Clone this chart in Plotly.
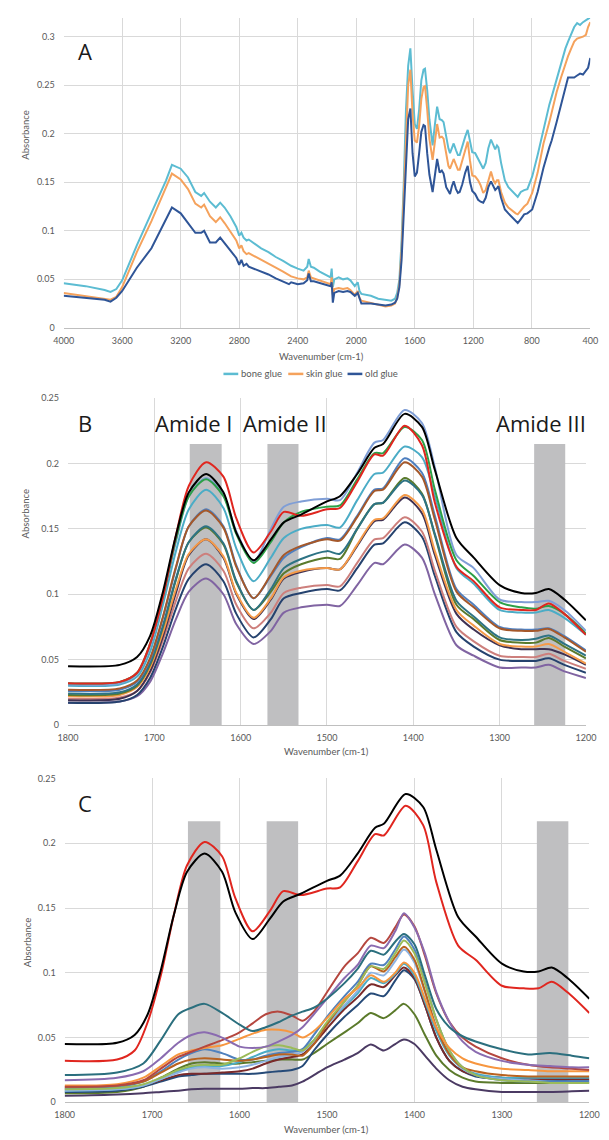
import plotly.graph_objects as go

W, H = 609, 1140

# ---------------- Panel A data ----------------
WN_A = [4000, 3850, 3720, 3680, 3640, 3600, 3500, 3400, 3300, 3260, 3200, 3150, 3100, 3060, 3040, 3000,
        2960, 2930, 2900, 2860, 2820, 2800, 2785, 2770, 2750, 2735, 2700, 2650, 2600, 2550, 2500, 2460,
        2445, 2400, 2360, 2335, 2325, 2310, 2290, 2250, 2210, 2175, 2168, 2160, 2150, 2120, 2090, 2060,
        2040, 2010, 1990, 1978, 1965, 1940, 1900, 1850, 1800, 1760, 1735, 1720, 1705, 1690, 1675, 1660,
        1645, 1630, 1615, 1600, 1585, 1570, 1555, 1540, 1530, 1515, 1500, 1478, 1462, 1447, 1430, 1415,
        1403, 1385, 1370, 1359, 1346, 1334, 1318, 1305, 1293, 1275, 1255, 1238, 1222, 1207, 1187, 1167,
        1150, 1132, 1115, 1097, 1079, 1062, 1050, 1038, 1028, 1010, 984, 960, 930, 910, 896, 875, 852,
        830, 797, 760, 720, 680, 664, 630, 600, 570, 552, 530, 510, 490, 470, 450, 430, 415, 400]

BONE_GLUE = [.046, .043, .039, .037, .040, .049, .085, .118, .152, .168, .164, .155, .140, .136, .139, .130,
             .124, .129, .124, .115, .104, .095, .098, .093, .090, .091, .087, .082, .078, .073, .069, .065,
             .064, .061, .059, .063, .071, .063, .062, .058, .055, .052, .061, .042, .050, .052, .050, .051,
             .049, .043, .047, .038, .035, .034, .033, .030, .029, .028, .030, .036, .050, .090, .150, .225,
             .270, .288, .245, .210, .205, .225, .255, .266, .267, .245, .215, .188, .210, .228, .215, .214,
             .212, .195, .185, .180, .186, .190, .183, .178, .178, .188, .197, .204, .192, .181, .180, .174,
             .170, .164, .170, .185, .194, .188, .184, .188, .186, .170, .152, .145, .140, .137, .135, .140, .142,
             .143, .156, .178, .205, .230, .238, .257, .272, .288, .295, .302, .310, .314, .312, .315, .317, .319, .320]

SKIN_GLUE = [.036, .033, .030, .029, .032, .042, .078, .110, .145, .159, .153, .143, .128, .124, .127, .115,
             .109, .114, .108, .099, .090, .082, .085, .079, .076, .077, .074, .070, .066, .062, .058, .054,
             .053, .051, .050, .052, .059, .052, .051, .049, .047, .045, .052, .034, .040, .041, .040, .041,
             .039, .034, .038, .031, .028, .027, .026, .024, .022, .023, .025, .031, .045, .080, .135, .205,
             .250, .266, .220, .193, .191, .208, .236, .248, .249, .225, .195, .173, .195, .210, .196, .197,
             .195, .178, .167, .164, .170, .174, .168, .163, .163, .172, .183, .192, .172, .157, .156, .152,
             .147, .139, .142, .152, .161, .152, .149, .152, .152, .140, .129, .124, .120, .118, .117, .121, .125,
             .128, .139, .160, .190, .212, .222, .243, .258, .272, .280, .288, .295, .298, .299, .300, .302, .310, .315]

OLD_GLUE = [.033, .031, .029, .027, .031, .038, .062, .082, .112, .124, .118, .108, .098, .098, .100, .088,
            .088, .093, .087, .080, .072, .065, .070, .064, .066, .063, .061, .058, .055, .051, .048, .045,
            .047, .045, .046, .049, .056, .048, .048, .046, .044, .043, .047, .026, .036, .038, .037, .038,
            .037, .033, .036, .030, .025, .025, .025, .024, .023, .024, .026, .030, .042, .070, .120, .180,
            .215, .226, .180, .156, .160, .180, .202, .209, .208, .180, .158, .140, .160, .174, .160, .162,
            .159, .145, .141, .138, .146, .151, .143, .139, .140, .148, .160, .167, .150, .141, .138, .132,
            .130, .129, .134, .145, .151, .145, .142, .144, .146, .134, .122, .118, .113, .110, .108, .112, .117,
            .118, .122, .140, .165, .186, .193, .212, .230, .245, .258, .258, .258, .260, .262, .261, .265, .268, .278]

# ---------------- Panel B / C shared data ----------------
WN_B = [1800, 1740, 1720, 1705, 1690, 1675, 1660, 1640, 1620, 1605, 1585, 1565, 1550, 1530, 1500,
        1485, 1465, 1445, 1435, 1410, 1390, 1375, 1350, 1330, 1300, 1275, 1258, 1243, 1225, 1200]

BLACK = [.045, .046, .052, .068, .102, .145, .178, .192, .178, .147, .126, .142, .155, .161, .171,
         .175, .192, .212, .215, .238, .228, .195, .143, .128, .107, .101, .101, .104, .096, .080]
RED = [.032, .033, .040, .062, .098, .145, .183, .201, .190, .158, .132, .148, .163, .160, .165,
       .166, .186, .207, .206, .229, .214, .170, .121, .110, .090, .088, .088, .093, .085, .069]
GREEN = [.032, .033, .040, .062, .098, .142, .175, .188, .175, .146, .124, .140, .155, .163, .167,
         .168, .188, .208, .208, .228, .218, .180, .126, .114, .094, .090, .089, .091, .085, .070]
STEEL_LIGHT = [.031, .032, .039, .060, .097, .140, .175, .189, .176, .148, .125, .150, .167, .171, .173,
               .172, .193, .216, .218, .241, .231, .197, .130, .120, .096, .094, .094, .095, .088, .072]
CYAN = [.030, .031, .037, .056, .092, .133, .165, .180, .166, .135, .110, .128, .143, .150, .153,
        .151, .172, .192, .193, .213, .205, .175, .120, .108, .088, .086, .086, .088, .082, .069]
STEEL_BLUE = [.026, .027, .033, .050, .082, .120, .152, .165, .152, .122, .097, .114, .128, .136, .143,
              .142, .160, .180, .181, .204, .193, .160, .104, .092, .075, .073, .073, .074, .068, .057]
BROWN = [.027, .028, .034, .051, .083, .121, .152, .164, .151, .121, .097, .115, .130, .137, .142,
         .141, .159, .179, .180, .201, .190, .157, .102, .090, .074, .072, .072, .0735, .067, .056]
TEAL = [.024, .025, .031, .047, .076, .112, .140, .152, .139, .110, .088, .104, .120, .127, .133,
        .131, .150, .169, .170, .187, .176, .146, .095, .083, .067, .065, .066, .0685, .062, .053]
OLIVE = [.023, .024, .030, .046, .075, .111, .140, .151, .138, .109, .088, .102, .116, .123, .128,
         .127, .150, .169, .170, .189, .177, .145, .092, .081, .065, .063, .063, .0665, .060, .051]
ORANGE = [.022, .023, .029, .044, .071, .104, .131, .142, .129, .101, .082, .097, .113, .118, .120,
          .119, .138, .157, .158, .176, .165, .133, .088, .076, .062, .060, .060, .062, .056, .047]
DARK_PURPLE = [.019, .020, .026, .041, .068, .101, .130, .142, .128, .100, .081, .096, .112, .117, .120,
               .119, .137, .156, .157, .174, .162, .130, .085, .073, .061, .058, .058, .058, .054, .046]
ROSE = [.020, .021, .026, .040, .065, .095, .120, .131, .118, .092, .074, .086, .101, .105, .107,
        .106, .124, .142, .143, .159, .148, .118, .075, .064, .053, .052, .052, .0545, .049, .043]
NAVY = [.017, .018, .023, .036, .060, .089, .112, .123, .110, .085, .067, .081, .097, .101, .104,
        .103, .120, .138, .139, .155, .144, .114, .071, .060, .050, .049, .049, .051, .046, .040]
PURPLE = [.017, .018, .022, .033, .055, .081, .102, .112, .100, .077, .062, .072, .086, .090, .092,
          .091, .107, .124, .123, .138, .128, .100, .061, .053, .044, .044, .044, .046, .041, .036]

# ---------------- Panel C low-intensity spectra ----------------
WN_C = [1800, 1740, 1710, 1690, 1670, 1655, 1640, 1620, 1600, 1585, 1570, 1555, 1540, 1528, 1515, 1500, 1480,
        1465, 1450, 1435, 1422, 1412, 1400, 1388, 1375, 1360, 1345, 1330, 1300, 1270, 1245, 1220, 1200]

C_TEAL = [.021, .023, .030, .048, .068, .073, .076, .069, .060, .055, .058, .062, .067, .070, .073, .080, .092,
          .103, .117, .114, .124, .130, .122, .098, .072, .058, .051, .047, .041, .037, .038, .036, .034]
C_PURPLE = [.017, .019, .024, .034, .046, .052, .054, .050, .043, .042, .043, .047, .052, .058, .068, .080, .096,
            .106, .121, .119, .132, .146, .135, .115, .085, .062, .047, .039, .032, .029, .028, .027, .027]
C_BRICK = [.012, .013, .017, .026, .035, .039, .043, .048, .054, .061, .068, .070, .067, .063, .070, .085, .105,
           .115, .127, .123, .135, .145, .136, .113, .084, .062, .050, .043, .034, .029, .027, .026, .025]
C_ORANGE = [.013, .014, .019, .028, .037, .040, .042, .044, .049, .053, .056, .056, .054, .050, .055, .065, .080,
            .088, .098, .093, .100, .108, .100, .080, .058, .042, .034, .030, .026, .025, .024, .024, .024]
C_LIGHT_GREEN = [.010, .011, .014, .019, .025, .028, .029, .029, .034, .039, .043, .044, .042, .040, .048, .062, .078,
                 .090, .105, .103, .115, .125, .115, .092, .064, .040, .027, .021, .017, .016, .015, .015, .015]
C_CYAN = [.009, .010, .013, .018, .024, .027, .028, .028, .031, .035, .039, .041, .040, .040, .048, .060, .074,
          .084, .096, .092, .099, .107, .098, .078, .055, .036, .026, .022, .019, .019, .019, .019, .019]
C_STEEL_BLUE = [.011, .012, .016, .024, .033, .038, .041, .038, .033, .033, .036, .038, .039, .041, .052, .066, .082,
                .093, .107, .106, .118, .128, .118, .093, .064, .040, .027, .021, .017, .016, .016, .016, .016]
C_DARK_ORANGE = [.012, .013, .016, .023, .030, .033, .034, .033, .032, .033, .035, .037, .037, .036, .045, .060, .078,
                 .090, .105, .101, .112, .120, .110, .086, .058, .037, .027, .024, .021, .020, .020, .020, .020]
C_OLIVE = [.007, .008, .012, .019, .026, .030, .031, .030, .030, .031, .032, .033, .033, .033, .038, .045, .054,
           .061, .069, .065, .071, .076, .068, .052, .036, .025, .019, .016, .015, .015, .015, .015, .015]
C_MAROON = [.010, .011, .013, .017, .021, .022, .022, .023, .024, .026, .030, .033, .035, .037, .045, .057, .072,
            .081, .091, .089, .098, .104, .096, .075, .050, .032, .024, .021, .019, .018, .018, .018, .018]
C_NAVY = [.008, .009, .012, .016, .020, .021, .022, .022, .022, .022, .023, .024, .025, .028, .040, .052, .066,
          .075, .084, .082, .094, .102, .095, .075, .050, .032, .024, .020, .018, .017, .017, .017, .017]
C_DARK_PURPLE = [.005, .006, .007, .008, .009, .010, .0105, .0105, .0105, .011, .011, .012, .013, .016, .021, .027, .033,
                 .038, .0446, .040, .045, .0485, .045, .036, .026, .017, .012, .010, .008, .008, .008, .0085, .009]
C_LIGHT_STEEL = [.009, .010, .013, .018, .023, .026, .027, .026, .027, .029, .032, .035, .037, .039, .047, .060, .075,
                 .086, .100, .098, .109, .118, .108, .085, .058, .037, .026, .021, .018, .017, .016, .016, .016]

# Amide band limits (wavenumber)
AMIDE_NAMES = ["Amide I", "Amide II", "Amide III"]
AMIDE_BANDS = [(1659, 1622), (1569, 1533), (1260, 1224)]

LEGEND_A = ["bone glue", "skin glue", "old glue"]

# ---------------- figure ----------------
fig = go.Figure()

COL_BONE, COL_SKIN, COL_OLD = "#5cbcd2", "#f5a25c", "#2f5597"
for name, ys, c in [(LEGEND_A[0], BONE_GLUE, COL_BONE), (LEGEND_A[1], SKIN_GLUE, COL_SKIN),
                    (LEGEND_A[2], OLD_GLUE, COL_OLD)]:
    fig.add_trace(go.Scatter(x=WN_A, y=ys, mode="lines", name=name, showlegend=False,
                             line=dict(color=c, width=2), xaxis="x", yaxis="y"))

B_SERIES = [
    (PURPLE, "#8064a2"), (NAVY, "#25426e"), (ROSE, "#cd7f7c"), (DARK_PURPLE, "#3f3152"),
    (ORANGE, "#f59a48"), (OLIVE, "#5a7a2c"), (TEAL, "#2d7384"), (STEEL_BLUE, "#4f7fbf"),
    (BROWN, "#a5582a"), (CYAN, "#4bacc6"), (STEEL_LIGHT, "#7f9ed6"), (GREEN, "#2ca048"),
    (RED, "#e0261f"), (BLACK, "#000000"),
]
for ys, c in B_SERIES:
    fig.add_trace(go.Scatter(x=WN_B, y=ys, mode="lines", showlegend=False,
                             line=dict(color=c, width=2, shape="spline", smoothing=0.8),
                             xaxis="x2", yaxis="y2"))

C_SERIES = [
    (C_DARK_PURPLE, "#4b3a63"), (C_OLIVE, "#5b7a2b"), (C_NAVY, "#264a78"), (C_MAROON, "#7a2a2a"),
    (C_CYAN, "#4bacc6"), (C_LIGHT_STEEL, "#8db3e2"), (C_STEEL_BLUE, "#4f81bd"), (C_DARK_ORANGE, "#b8621f"),
    (C_LIGHT_GREEN, "#9bbb59"), (C_ORANGE, "#f7963f"), (C_BRICK, "#b5473f"), (C_PURPLE, "#8a6bb0"),
    (C_TEAL, "#2b6f7e"),
]
for ys, c in C_SERIES:
    fig.add_trace(go.Scatter(x=WN_C, y=ys, mode="lines", showlegend=False,
                             line=dict(color=c, width=2, shape="spline", smoothing=0.8),
                             xaxis="x3", yaxis="y3"))
for ys, c in [(RED, "#e0261f"), (BLACK, "#000000")]:
    fig.add_trace(go.Scatter(x=WN_B, y=ys, mode="lines", showlegend=False,
                             line=dict(color=c, width=2, shape="spline", smoothing=0.8),
                             xaxis="x3", yaxis="y3"))


def px(xp):
    return xp / W


def py(yp):
    return 1 - yp / H


GRID = "#d9d9d9"
TICKF = dict(family="Lato, Open Sans, sans-serif", size=9, color="#595959")


def xax(domain, rng, dtick, anchor):
    return dict(domain=domain, range=rng, dtick=dtick, tick0=0, showgrid=True, gridcolor=GRID,
                gridwidth=1, zeroline=False, showline=True, linecolor="#bfbfbf", linewidth=1,
                ticks="", tickfont=TICKF, anchor=anchor, fixedrange=True, ticklabelstandoff=4)


def yax(domain, rng, anchor):
    return dict(domain=domain, range=rng, dtick=0.05, tick0=0, showgrid=True, gridcolor=GRID,
                gridwidth=1, zeroline=False, showline=False, ticks="", tickfont=TICKF,
                anchor=anchor, fixedrange=True, ticklabelstandoff=8)


fig.update_layout(
    width=W, height=H, margin=dict(l=0, r=0, t=0, b=0),
    paper_bgcolor="white", plot_bgcolor="white", showlegend=False,
    xaxis=xax([px(55.5), px(600)], [4000, 400], 400, "y"),
    yaxis=yax([py(325), py(12)], [0, 0.3194], "x"),
    xaxis2=xax([px(60), px(595.5)], [1800, 1200], 100, "y2"),
    yaxis2=yax([py(726), py(396)], [0, 0.25], "x2"),
    xaxis3=xax([px(56.5), px(599)], [1800, 1200], 100, "y3"),
    yaxis3=yax([py(1107), py(780)], [0, 0.25], "x3"),
)

# shaded amide bands
shapes = []
for (xa, yr, top) in [("x2", "y2", 0.215), ("x3", "y3", 0.217)]:
    for (x0, x1) in AMIDE_BANDS:
        shapes.append(dict(type="rect", xref=xa, yref=yr, x0=x0, x1=x1, y0=0, y1=top,
                           fillcolor="#bfbfc1", line=dict(width=0), layer="between"))

# manual legend for panel A
LEG_Y = 371.5
leg_items = [(220.7, 236.0, COL_BONE, 237.0), (287.7, 303.3, COL_SKIN, 304.0), (349.0, 364.3, COL_OLD, 365.0)]
annotations = []
for (lx0, lx1, c, tx), label in zip(leg_items, LEGEND_A):
    shapes.append(dict(type="line", xref="paper", yref="paper", x0=px(lx0), x1=px(lx1),
                       y0=py(LEG_Y), y1=py(LEG_Y), line=dict(color=c, width=2.5)))
    annotations.append(dict(text=label, xref="paper", yref="paper", x=px(tx), y=py(LEG_Y),
                            xanchor="left", yanchor="middle", showarrow=False,
                            font=dict(family="Lato, Open Sans, sans-serif", size=9.5, color="#595959")))

TITLEF = dict(family="Lato, Open Sans, sans-serif", size=9.5, color="#595959")
for (xc, yc) in [(16.5, 130), (16.5, 512.5), (19, 945)]:
    annotations.append(dict(text="Absorbance", xref="paper", yref="paper", x=px(xc), y=py(yc),
                            xanchor="center", yanchor="middle", textangle=-90, showarrow=False,
                            font=TITLEF))
for (xc, yc) in [(322, 354), (327, 753), (327, 1134)]:
    annotations.append(dict(text="Wavenumber (cm-1)", xref="paper", yref="paper", x=px(xc), y=py(yc),
                            xanchor="center", yanchor="middle", showarrow=False, font=TITLEF))

BIGF = dict(family="Open Sans, Noto Sans, sans-serif", size=22, color="#1a1a1a")
for (lab, xc, yc) in [("A", 78, 45), ("B", 78, 421.5), ("C", 78, 805)]:
    annotations.append(dict(text=lab, xref="paper", yref="paper", x=px(xc), y=py(yc),
                            xanchor="center", yanchor="middle", showarrow=False, font=BIGF))
for (lab, xc) in zip(AMIDE_NAMES, [190, 284.5, 549.5]):
    annotations.append(dict(text=lab, xref="paper", yref="paper", x=px(xc), y=py(421.5),
                            xanchor="center", yanchor="middle", showarrow=False, font=BIGF))

fig.update_layout(shapes=shapes, annotations=annotations)

fig.write_html("out.html")
